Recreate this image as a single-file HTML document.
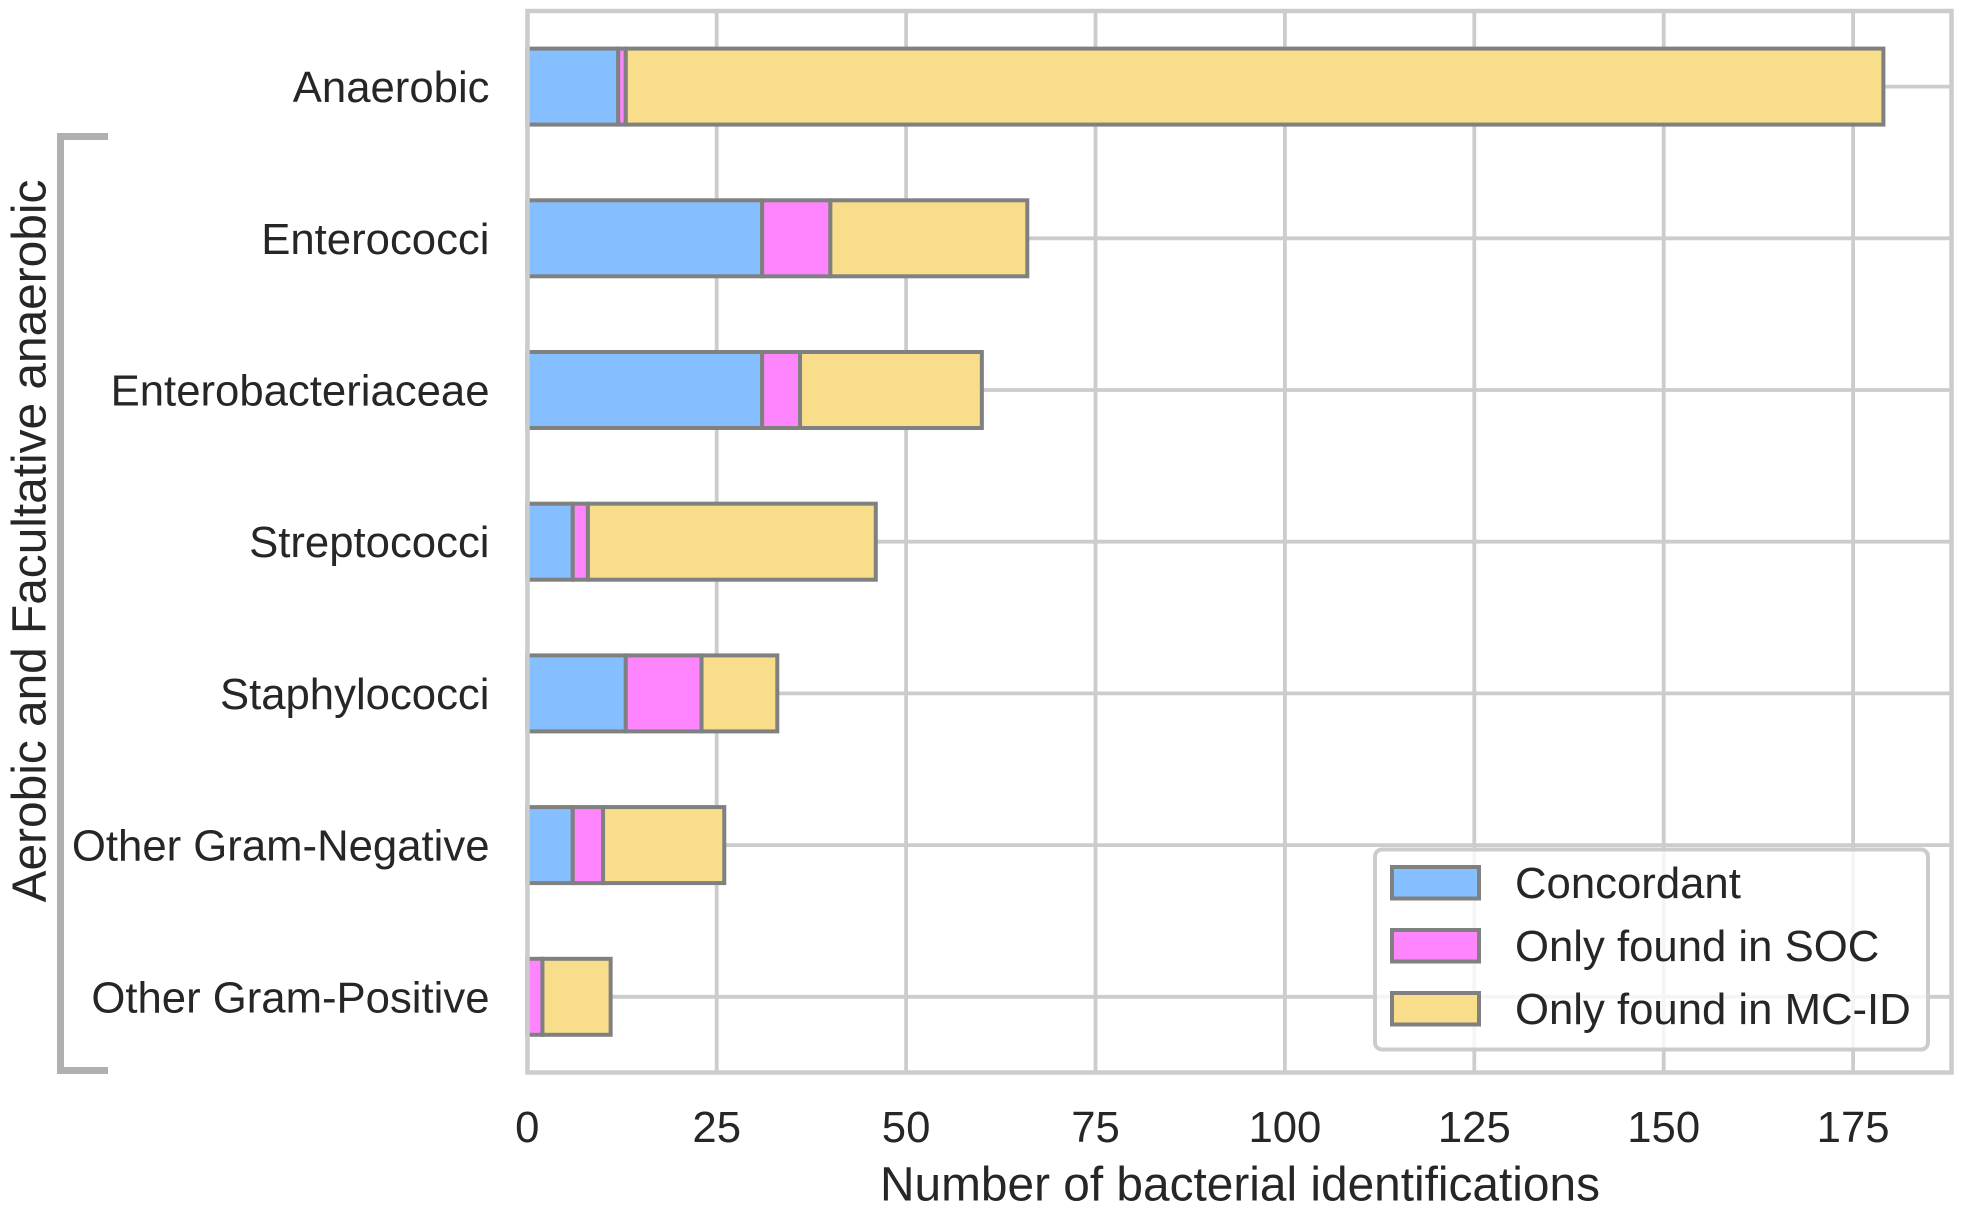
<!DOCTYPE html>
<html lang="en">
<head>
<meta charset="utf-8">
<title>Bacterial identifications</title>
<style>
html,body{margin:0;padding:0;background:#fff;width:1964px;height:1212px;overflow:hidden}
svg{display:block}
text{font-family:"Liberation Sans",Arial,sans-serif;fill:#262626}
</style>
</head>
<body>
<svg id="chart" xmlns="http://www.w3.org/2000/svg" width="1964" height="1212" viewBox="0 0 1964 1212">
  <rect x="0" y="0" width="1964" height="1212" fill="#ffffff"/>
  <g id="grid"></g>
  <g id="bars"></g>
  <rect x="527.5" y="11" width="1424" height="1061.5" fill="none" stroke="#cccccc" stroke-width="4.5"/>
  <g id="yticks"></g>
  <g id="xticks"></g>
  <text x="1240" y="1200.5" font-size="47.8" text-anchor="middle">Number of bacterial identifications</text>
  <text transform="translate(45.5,541) rotate(-90)" font-size="47.8" text-anchor="middle">Aerobic and Facultative anaerobic</text>
  <path d="M108 136.5H60.5V1070.5H108" fill="none" stroke="#b0b0b0" stroke-width="7"/>
  <g>
    <rect x="1375" y="849.5" width="553" height="200" rx="7" ry="7" fill="#ffffff" fill-opacity="0.8" stroke="#cccccc" stroke-width="4"/>
    <g>
      <rect x="1392" y="867" width="87" height="31.5" fill="#85bfff" stroke="#808080" stroke-width="4"/>
      <text x="1515" y="898" font-size="43.7">Concordant</text>
    </g>
    <g>
      <rect x="1392" y="930" width="87" height="31.5" fill="#ff85ff" stroke="#808080" stroke-width="4"/>
      <text x="1515" y="961" font-size="43.7">Only found in SOC</text>
    </g>
    <g>
      <rect x="1392" y="993" width="87" height="31.5" fill="#f8dd8b" stroke="#808080" stroke-width="4"/>
      <text x="1515" y="1024" font-size="43.7">Only found in MC-ID</text>
    </g>
  </g>
</svg>
<script>
const categories = ["Anaerobic","Enterococci","Enterobacteriaceae","Streptococci","Staphylococci","Other Gram-Negative","Other Gram-Positive"];
const concordant = [12,31,31,6,13,6,0];
const onlySoc = [1,9,5,2,10,4,2];
const onlyMcId = [166,26,24,38,10,16,9];
const xTickValues = [0,25,50,75,100,125,150,175];

const NS = "http://www.w3.org/2000/svg";
const seriesFills = ["#85bfff","#ff85ff","#f8dd8b"];
const seriesKeys = ["concordant","only-soc","only-mc-id"];
const plotLeft = 527.3, plotRight = 1951.5, plotTop = 11, plotBottom = 1072.5;
const pxPerUnit = 7.576, rowTop = 86.6, rowStep = 151.7, barHeight = 76;

function xScale(v){ return plotLeft + v * pxPerUnit; }
function yScale(i){ return rowTop + i * rowStep; }
function make(tag, attrs, parent){
  const el = document.createElementNS(NS, tag);
  for (const k in attrs) el.setAttribute(k, attrs[k]);
  parent.appendChild(el);
  return el;
}

const gridG = document.getElementById("grid");
xTickValues.forEach(function(v){
  const line = make("line", {x1:xScale(v), x2:xScale(v), y1:plotTop, y2:plotBottom, stroke:"#cccccc", "stroke-width":3.8}, gridG);
  
  
});
categories.forEach(function(c, i){
  const line = make("line", {x1:plotLeft, x2:plotRight, y1:yScale(i), y2:yScale(i), stroke:"#cccccc", "stroke-width":3.8}, gridG);
  
  
});

const barsG = document.getElementById("bars");
const allSeries = [concordant, onlySoc, onlyMcId];
categories.forEach(function(c, i){
  let cum = 0;
  allSeries.forEach(function(series, s){
    const val = series[i];
    if (val > 0) {
      const r = make("rect", {x:xScale(cum), y:yScale(i) - barHeight / 2, width:xScale(cum + val) - xScale(cum), height:barHeight, fill:seriesFills[s], stroke:"#808080", "stroke-width":4}, barsG);
      
      
    }
    cum += val;
  });
});

const yG = document.getElementById("yticks");
categories.forEach(function(c, i){
  const t = make("text", {x:489.5, y:yScale(i) + 15.5, "font-size":43.7, "text-anchor":"end"}, yG);
  t.textContent = c;
  
  
});

const xG = document.getElementById("xticks");
xTickValues.forEach(function(v){
  const t = make("text", {x:xScale(v), y:1142, "font-size":43.7, "text-anchor":"middle"}, xG);
  t.textContent = String(v);
  
  
});
</script>
</body>
</html>
